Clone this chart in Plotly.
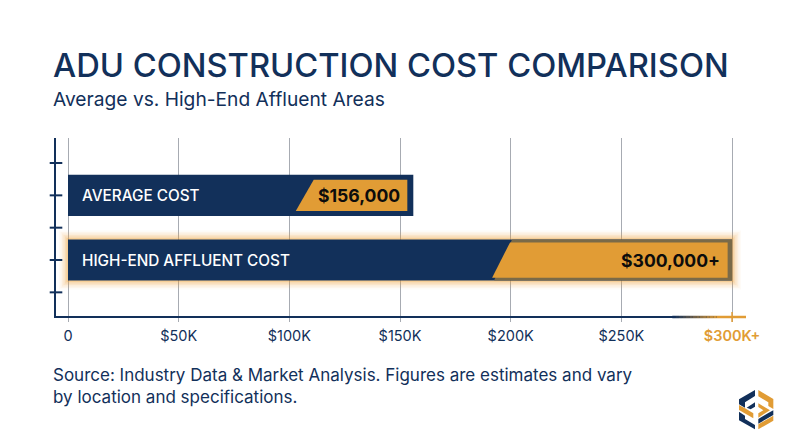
import plotly.graph_objects as go

# data
categories = ["AVERAGE COST", "HIGH-END AFFLUENT COST"]
cost_values = [156000, 300000]
cost_labels = ["$156,000", "$300,000+"]
bar_positions = [1, 3]
gold_start = [102900, 191600]
gold_end = [153300, 298000]
x_ticks = [0, 50000, 100000, 150000, 200000, 250000, 300000]
x_tick_labels = ["0", "$50K", "$100K", "$150K", "$200K", "$250K", "$300K+"]
y_ticks = [0, 1, 2, 3, 4]

NAVY = "#12305a"
GOLD = "#e19c35"
EDGE = "#7a6a48"
FONT = "Inter"

WIDTH, HEIGHT = 800, 447
L, R, T, B = 56, 54, 138, 131
X_MIN, X_MAX = -5420, 306300
Y_MIN, Y_MAX = 4.732, -0.774
SLANT = 8100


def px(x):
    return (x - L) / (WIDTH - L - R)


def py(y):
    return 1 - (y - T) / (HEIGHT - T - B)


def slanted(start, end, pos, half):
    xs = [start, start + SLANT, end, end, start, start]
    ys = [pos + half, pos - half, pos - half, pos + half, pos + half, pos + half]
    return xs, ys


fig = go.Figure()

# glow round the high-end bar
for w, a in [(18, 0.04), (15, 0.06), (12, 0.08), (9, 0.1), (6, 0.14), (3, 0.22)]:
    fig.add_trace(go.Bar(
        y=[bar_positions[1]], x=[cost_values[1]], orientation="h", width=1.27,
        marker=dict(color="rgba(0,0,0,0)", line=dict(color=f"rgba(240,160,50,{a})", width=w)),
        hoverinfo="skip"))

fig.add_trace(go.Bar(
    y=bar_positions, x=cost_values, orientation="h", width=1.27,
    marker=dict(color=NAVY, line=dict(width=0)), hoverinfo="skip"))

# brown edge under the gold part of the second bar
xs, ys = slanted(gold_start[1] + 900, cost_values[1], bar_positions[1], 0.635)
fig.add_trace(go.Scatter(x=xs, y=ys, mode="lines", fill="toself", fillcolor=EDGE,
                         line=dict(width=0), hoverinfo="skip"))

# gold parts
for i, half in enumerate([0.485, 0.545]):
    xs, ys = slanted(gold_start[i], gold_end[i], bar_positions[i], half)
    fig.add_trace(go.Scatter(x=xs, y=ys, mode="lines", fill="toself", fillcolor=GOLD,
                             line=dict(width=0), hoverinfo="skip"))

# y axis cross ticks
fig.add_trace(go.Scatter(
    x=[X_MIN] * len(y_ticks), y=y_ticks, mode="markers", cliponaxis=False,
    marker=dict(symbol="line-ew", size=9, line=dict(color=NAVY, width=2)), hoverinfo="skip"))

fig.update_layout(
    width=WIDTH, height=HEIGHT, showlegend=False, barmode="overlay",
    margin=dict(l=L, r=R, t=T, b=B), paper_bgcolor="white", plot_bgcolor="white",
    font=dict(family=FONT, color=NAVY),
)
last = f"<span style='color:{GOLD};font-weight:600'>{x_tick_labels[-1]}</span>"
fig.update_xaxes(
    range=[X_MIN, X_MAX], tickvals=x_ticks, ticktext=x_tick_labels[:-1] + [last],
    showgrid=True, gridcolor="#a7abb2", gridwidth=1, zeroline=False,
    showline=True, linecolor=NAVY, linewidth=2,
    ticks="outside", ticklen=4, tickcolor="#a7abb2", tickwidth=1, ticklabelstandoff=2,
    tickfont=dict(size=14.5, color=NAVY, family=FONT),
)
fig.update_yaxes(
    range=[Y_MIN, Y_MAX], tickvals=y_ticks, showticklabels=False, showgrid=False,
    zeroline=False, showline=True, linecolor=NAVY, linewidth=2, ticks="",
)

# axis line fades to gold at the end
FADE_FROM, FADE_TO = 273000, 294600
steps = 14
for i in range(steps):
    t = i / (steps - 1)
    c = tuple(round(a + (b - a) * t) for a, b in zip((0x12, 0x30, 0x5a), (0xe1, 0x9c, 0x35)))
    x0 = FADE_FROM + (FADE_TO - FADE_FROM) * i / steps
    x1 = FADE_FROM + (FADE_TO - FADE_FROM) * (i + 1) / steps if i < steps - 1 else X_MAX
    fig.add_shape(type="line", xref="x", yref="paper", x0=x0, x1=x1, y0=py(317), y1=py(317),
                  line=dict(color=f"rgb{c}", width=2.5), layer="above")
fig.add_shape(type="line", xref="x", yref="paper", x0=x_ticks[-1], x1=x_ticks[-1],
              y0=py(312), y1=py(322), line=dict(color=GOLD, width=1.5), layer="above")

# bar labels
for i, name in enumerate(categories):
    fig.add_annotation(x=0, y=bar_positions[i], xref="x", yref="y", text=name, showarrow=False,
                       xanchor="left", xshift=12,
                       font=dict(size=15.3, color="white", family=FONT, weight=500))
fig.add_annotation(x=gold_end[0], y=bar_positions[0], text=f"<b>{cost_labels[0]}</b>", showarrow=False,
                   xanchor="right", xshift=-5, font=dict(size=17.6, color="#0c0c0c", family=FONT))
fig.add_annotation(x=gold_end[1], y=bar_positions[1], text=f"<b>{cost_labels[1]}</b>", showarrow=False,
                   xanchor="right", xshift=-6, font=dict(size=17.6, color="#0c0c0c", family=FONT))

# headings
texts = [
    ("ADU CONSTRUCTION COST COMPARISON", 51, 65, 32.7, 500),
    ("Average vs. High-End Affluent Areas", 51, 99, 19.2, 400),
    ("Source: Industry Data & Market Analysis. Figures are estimates and vary", 51, 375, 17, 400),
    ("by location and specifications.", 51, 397, 17, 400),
]
for text, x, y, size, weight in texts:
    fig.add_annotation(x=px(x), y=py(y), xref="paper", yref="paper", text=text, showarrow=False,
                       xanchor="left", yanchor="middle",
                       font=dict(size=size, color=NAVY, family=FONT, weight=weight))


def logo_path(points):
    return "M " + " L ".join(f"{px(730 + a / 3):.5f},{py(385 + b / 3):.5f}" for a, b in points) + " Z"


logo = [
    ([(75, 15), (75, 33), (45, 52), (45, 68), (27, 58), (27, 43)], NAVY),
    ([(85, 15), (130, 42), (130, 72), (115, 63), (115, 52), (85, 34)], GOLD),
    ([(27, 60), (45, 70), (70, 85), (70, 100), (27, 75)], GOLD),
    ([(50, 68), (75, 52), (75, 65), (62, 73)], NAVY),
    ([(27, 80), (45, 92), (45, 102), (75, 120), (75, 133), (27, 106)], NAVY),
    ([(85, 55), (120, 76), (85, 98), (85, 85), (100, 76), (85, 66)], GOLD),
    ([(85, 102), (115, 84), (130, 76), (130, 90), (85, 116)], NAVY),
    ([(85, 118), (130, 92), (130, 107), (85, 133)], GOLD),
]
for pts, color in logo:
    fig.add_shape(type="path", xref="paper", yref="paper", path=logo_path(pts),
                  fillcolor=color, line=dict(width=0), layer="above")

fig.write_html("out.html", config=dict(displayModeBar=False),
               post_script="document.body.style.margin='0';")
